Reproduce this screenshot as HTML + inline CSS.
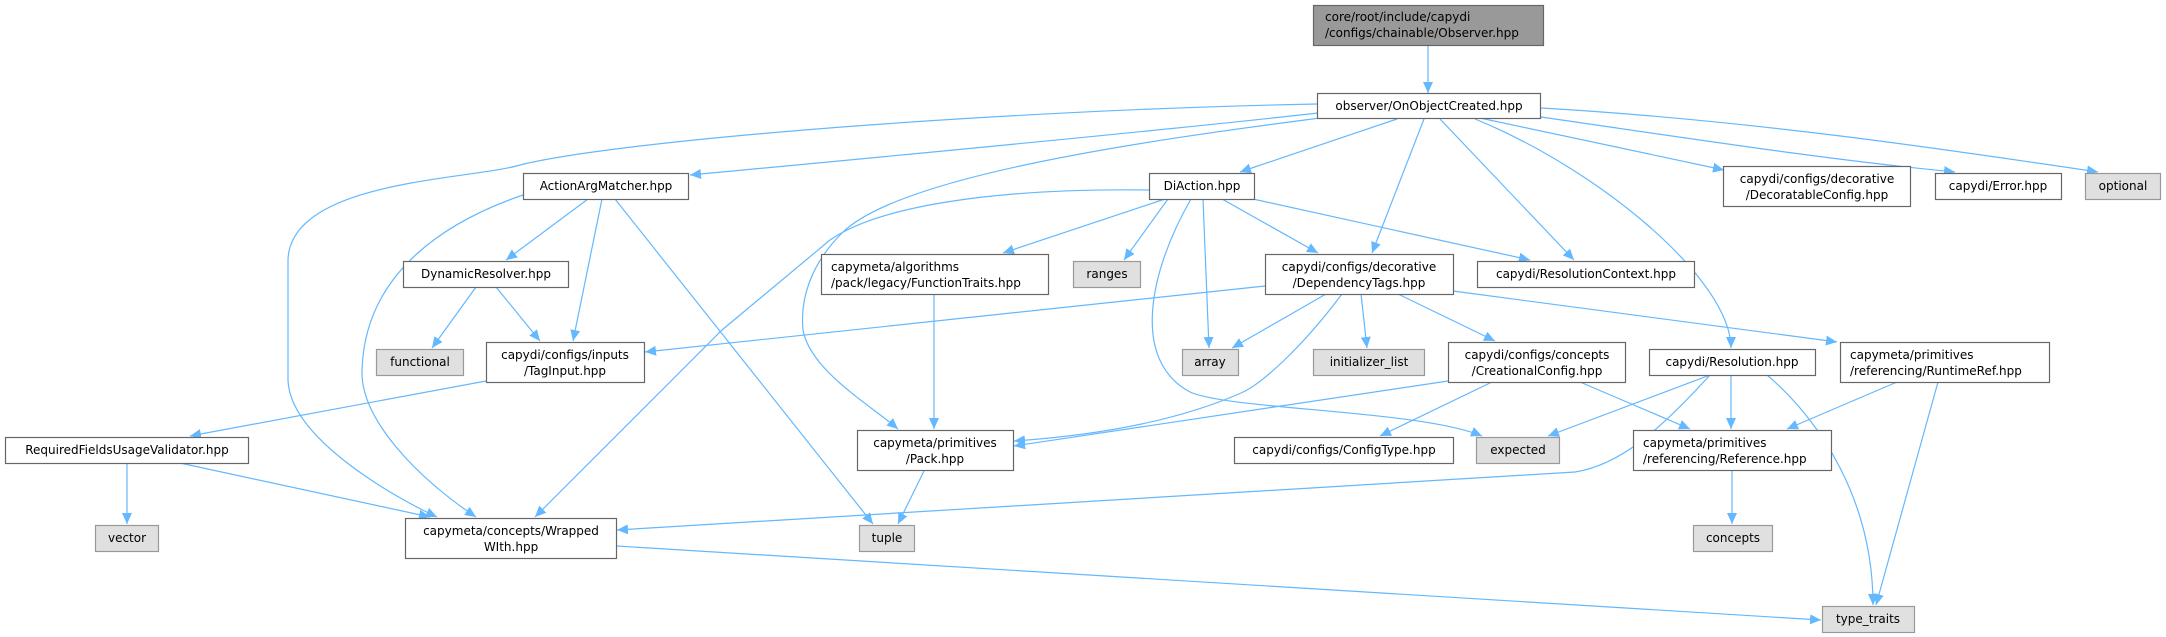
<!DOCTYPE html>
<html><head><meta charset="utf-8"><style>
html,body{margin:0;padding:0;background:#fff;}
svg{display:block;}
text{font-family:"DejaVu Sans","Liberation Sans",sans-serif;font-size:12px;fill:#000;}
.e{fill:none;stroke:#63b8ff;stroke-width:1.2;}
.w{fill:#fff;stroke:#666;stroke-width:1.2;}
.g{fill:#e0e0e0;stroke:#999;stroke-width:1.2;}
</style></head><body>
<svg width="2166" height="637" viewBox="0 0 2166 637" xmlns="http://www.w3.org/2000/svg">
<defs><marker id="a" markerUnits="userSpaceOnUse" markerWidth="12" markerHeight="10" refX="11" refY="5" orient="auto"><path d="M0,0 L11,5 L0,10 Z" fill="#63b8ff"/></marker></defs>
<g class="e" marker-end="url(#a)">
<path d="M1428,45 L1428,93"/>
<path d="M1318,113 C1150,132 850,160 690,175"/>
<path d="M1318,104 C1000,110 620,140 520,165 C470,180 290,180 288,260 L288,380 C290,440 400,500 437,517"/>
<path d="M1320,118 C1150,140 900,175 842,233 C810,265 800,300 803,330 C810,370 870,405 898,429"/>
<path d="M1397,119 L1240,172"/>
<path d="M1424,119 L1372,253"/>
<path d="M1440,119 L1574,260"/>
<path d="M1475,119 C1600,170 1731,280 1731,348"/>
<path d="M1480,118 L1724,170"/>
<path d="M1541,117 C1700,140 1830,160 1955,172"/>
<path d="M1541,108 C1750,120 1950,150 2098,172"/>
<path d="M588,199 L506,260"/>
<path d="M602,199 L573,341"/>
<path d="M615,199 L873,524"/>
<path d="M523,195 C450,220 365,270 362,370 C360,420 420,480 476,517"/>
<path d="M476,287 L432,348"/>
<path d="M496,287 L540,341"/>
<path d="M1149,190 C1000,188 880,205 830,240 C800,265 770,290 722,330 L535,517"/>
<path d="M1165,199 L1003,253"/>
<path d="M1168,199 L1124,260"/>
<path d="M1203,199 L1209,348"/>
<path d="M1191,199 C1150,270 1130,360 1190,392 C1230,410 1420,410 1482,436"/>
<path d="M1222,199 L1318,253"/>
<path d="M1253,199 L1530,260"/>
<path d="M934,295 L934,429"/>
<path d="M1265,286 L645,352"/>
<path d="M1342,294 C1300,350 1260,385 1241,393 C1180,420 1100,435 1014,441"/>
<path d="M1326,294 L1232,348"/>
<path d="M1361,294 L1367,348"/>
<path d="M1398,294 L1495,341"/>
<path d="M1453,291 L1837,342"/>
<path d="M1448,381 L1014,446"/>
<path d="M1492,382 L1380,436"/>
<path d="M1580,382 L1690,429"/>
<path d="M1710,375 L1548,436"/>
<path d="M1710,375 C1660,430 1620,465 1575,472 L617,530"/>
<path d="M1731,375 L1731,429"/>
<path d="M1767,375 C1820,420 1873,500 1873,605"/>
<path d="M1897,382 L1787,429"/>
<path d="M1938,382 L1876,605"/>
<path d="M1732,471 L1732,524"/>
<path d="M127,463 L127,524"/>
<path d="M180,463 L430,517"/>
<path d="M486,381 L190,436"/>
<path d="M924,471 L898,524"/>
<path d="M617,546 L1821,620"/>
</g>
<rect x="1313.5" y="5.5" width="230" height="40" fill="#999" stroke="#666" stroke-width="1.2"/>
<text x="1325" y="21">core/root/include/capydi</text><text x="1325" y="37">/configs/chainable/Observer.hpp</text>
<g text-anchor="middle">
<rect class="w" x="1317.5" y="93.5" width="223" height="25"/><text x="1429" y="110">observer/OnObjectCreated.hpp</text>
<rect class="w" x="523.5" y="173.5" width="165" height="26"/><text x="606" y="190">ActionArgMatcher.hpp</text>
<rect class="w" x="1149.5" y="173.5" width="105" height="26"/><text x="1202" y="190">DiAction.hpp</text>
<rect class="w" x="1723.5" y="166.5" width="187" height="40"/><text x="1817" y="183">capydi/configs/decorative</text><text x="1817" y="199">/DecoratableConfig.hpp</text>
<rect class="w" x="1935.5" y="173.5" width="126" height="26"/><text x="1998" y="190">capydi/Error.hpp</text>
<rect class="g" x="2085.5" y="173.5" width="75" height="26"/><text x="2123" y="190">optional</text>
<rect class="w" x="403.5" y="261.5" width="165" height="26"/><text x="486" y="278">DynamicResolver.hpp</text>
<rect class="g" x="1073.5" y="261.5" width="67" height="26"/><text x="1107" y="278">ranges</text>
<rect class="w" x="1265.5" y="254.5" width="188" height="40"/><text x="1359" y="271">capydi/configs/decorative</text><text x="1359" y="287">/DependencyTags.hpp</text>
<rect class="w" x="1477.5" y="261.5" width="217" height="26"/><text x="1586" y="278">capydi/ResolutionContext.hpp</text>
<rect class="g" x="376.5" y="349.5" width="87" height="26"/><text x="420" y="366">functional</text>
<rect class="w" x="486.5" y="342.5" width="158" height="40"/><text x="565" y="359">capydi/configs/inputs</text><text x="565" y="375">/TagInput.hpp</text>
<rect class="g" x="1182.5" y="349.5" width="56" height="26"/><text x="1210" y="366">array</text>
<rect class="g" x="1313.5" y="349.5" width="111" height="26"/><text x="1369" y="366">initializer_list</text>
<rect class="w" x="1448.5" y="342.5" width="177" height="40"/><text x="1537" y="359">capydi/configs/concepts</text><text x="1537" y="375">/CreationalConfig.hpp</text>
<rect class="w" x="1649.5" y="349.5" width="166" height="26"/><text x="1732" y="366">capydi/Resolution.hpp</text>
<rect class="w" x="5.5" y="437.5" width="243" height="26"/><text x="127" y="454">RequiredFieldsUsageValidator.hpp</text>
<rect class="w" x="857.5" y="430.5" width="156" height="40"/><text x="935" y="447">capymeta/primitives</text><text x="935" y="463">/Pack.hpp</text>
<rect class="w" x="1234.5" y="437.5" width="219" height="26"/><text x="1344" y="454">capydi/configs/ConfigType.hpp</text>
<rect class="g" x="1476.5" y="437.5" width="83" height="26"/><text x="1518" y="454">expected</text>
<rect class="g" x="95.5" y="525.5" width="63" height="26"/><text x="127" y="542">vector</text>
<rect class="w" x="405.5" y="518.5" width="211" height="40"/><text x="511" y="535">capymeta/concepts/Wrapped</text><text x="511" y="551">WIth.hpp</text>
<rect class="g" x="859.5" y="525.5" width="55" height="26"/><text x="887" y="542">tuple</text>
<rect class="g" x="1693.5" y="525.5" width="79" height="26"/><text x="1733" y="542">concepts</text>
<rect class="g" x="1822.5" y="606.5" width="92" height="26"/><text x="1868" y="623">type_traits</text>
</g>
<rect class="w" x="821.5" y="254.5" width="227" height="40"/><text x="831" y="271">capymeta/algorithms</text><text x="831" y="287">/pack/legacy/FunctionTraits.hpp</text>
<rect class="w" x="1840.5" y="342.5" width="209" height="40"/><text x="1850" y="359">capymeta/primitives</text><text x="1850" y="375">/referencing/RuntimeRef.hpp</text>
<rect class="w" x="1633.5" y="430.5" width="198" height="40"/><text x="1643" y="447">capymeta/primitives</text><text x="1643" y="463">/referencing/Reference.hpp</text>
</svg>
</body></html>
